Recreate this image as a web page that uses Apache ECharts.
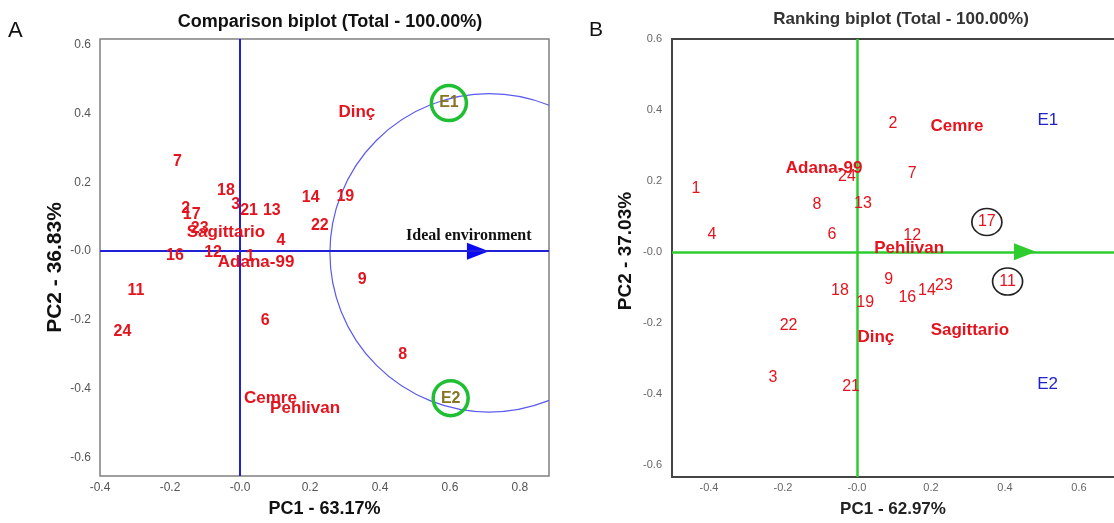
<!DOCTYPE html>
<html>
<head>
<meta charset="utf-8">
<script src="https://cdn.jsdelivr.net/npm/echarts@6/dist/echarts.min.js"></script>
<style>
html,body{margin:0;padding:0;background:#fff;}
#c{width:1114px;height:523px;}
</style>
</head>
<body>
<div id="c"></div>
<script>
// ---------------- DATA ----------------
// Panel A: comparison biplot  [label, PC1, PC2]
const leftGenotypes = [
  ['7', -0.179, 0.261], ['18', -0.040, 0.175], ['3', -0.012, 0.135], ['21', 0.026, 0.117],
  ['13', 0.091, 0.117], ['14', 0.202, 0.155], ['19', 0.301, 0.158], ['22', 0.228, 0.074],
  ['2', -0.155, 0.124], ['17', -0.138, 0.107], ['23', -0.115, 0.064], ['4', 0.117, 0.032],
  ['16', -0.186, -0.014], ['12', -0.077, -0.003], ['1', 0.029, -0.015], ['9', 0.349, -0.083],
  ['11', -0.297, -0.115], ['6', 0.072, -0.203], ['24', -0.336, -0.235], ['8', 0.465, -0.301]
];
const leftCultivars = [
  ['Dinç', 0.334, 0.404], ['Sagittario', -0.040, 0.054], ['Adana-99', 0.046, -0.032],
  ['Cemre', 0.087, -0.427], ['Pehlivan', 0.186, -0.456]
];
const leftEnvironments = [['E1', 0.597, 0.430], ['E2', 0.602, -0.427]];
const leftIdeal = [0.68, 0];              // arrow head (ideal environment) on the AEA
const leftIdealLabel = ['Ideal environment', 0.654, 0.043];
const leftCircle = [0.712, -0.005, 0.455]; // centre PC1, centre PC2, radius

// Panel B: ranking biplot
const rightGenotypes = [
  ['2', 0.097, 0.361], ['24', -0.027, 0.213], ['7', 0.149, 0.221], ['1', -0.435, 0.179],
  ['8', -0.108, 0.132], ['13', 0.016, 0.137], ['17', 0.351, 0.084], ['4', -0.392, 0.048],
  ['6', -0.068, 0.048], ['12', 0.149, 0.045], ['9', 0.086, -0.078], ['11', 0.407, -0.084],
  ['18', -0.046, -0.109], ['19', 0.022, -0.143], ['16', 0.136, -0.129], ['14', 0.189, -0.109],
  ['23', 0.235, -0.095], ['22', -0.185, -0.207], ['3', -0.227, -0.356], ['21', -0.016, -0.381]
];
const rightCultivars = [
  ['Cemre', 0.270, 0.353], ['Adana-99', -0.089, 0.235], ['Pehlivan', 0.141, 0.011],
  ['Sagittario', 0.305, -0.221], ['Dinç', 0.051, -0.241]
];
const rightEnvironments = [['E1', 0.516, 0.370], ['E2', 0.515, -0.373]];
const rightHighlighted = ['17', '11'];
const rightAEA = [0.454, 0];

// Tick labels
const tickValuesX = [-0.4, -0.2, 0, 0.2, 0.4, 0.6, 0.8];
const tickLabelsX = ['-0.4', '-0.2', '-0.0', '0.2', '0.4', '0.6', '0.8'];
const tickValuesY = [-0.6, -0.4, -0.2, 0, 0.2, 0.4, 0.6];
const tickLabelsY = ['-0.6', '-0.4', '-0.2', '-0.0', '0.2', '0.4', '0.6'];

const titles = ['Comparison biplot (Total - 100.00%)', 'Ranking biplot (Total - 100.00%)'];
const xNames = ['PC1 - 63.17%', 'PC1 - 62.97%'];
const yNames = ['PC2 - 36.83%', 'PC2 - 37.03%'];
const panelLetters = ['A', 'B'];

// ---------------- CHART ----------------
const FONT = '"Liberation Sans", Arial, sans-serif';
const RED = '#e3141e';

function tickFmt(values, labels) {
  return function (v) {
    for (let i = 0; i < values.length; i++) if (Math.abs(values[i] - v) < 1e-6) return labels[i];
    return '';
  };
}
function pts(items) {
  return items.map(d => ({ name: d[0], value: [d[1], d[2]] }));
}
function textSeries(items, gi, labelStyle, z) {
  return {
    type: 'scatter', xAxisIndex: gi, yAxisIndex: gi, silent: true, z: z || 5,
    symbol: 'circle', symbolSize: 1, itemStyle: { color: 'rgba(0,0,0,0)', opacity: 1 },
    data: pts(items),
    label: Object.assign({ show: true, position: 'inside', formatter: '{b}', fontFamily: FONT }, labelStyle)
  };
}
const hiddenAxisBits = { axisTick: { show: false }, splitLine: { show: false } };

const chart = echarts.init(document.getElementById('c'), null, { renderer: 'canvas', width: 1114, height: 523 });

const option = {
  animation: false,
  backgroundColor: '#fff',
  title: [
    { text: titles[0], left: 330, top: 13, textAlign: 'center', padding: 0,
      textStyle: { fontFamily: FONT, fontSize: 18, fontWeight: 'bold', color: '#111' } },
    { text: titles[1], left: 901, top: 11, textAlign: 'center', padding: 0,
      textStyle: { fontFamily: FONT, fontSize: 17, fontWeight: 'bold', color: '#333' } },
    { text: panelLetters[0], left: 8, top: 20, padding: 0,
      textStyle: { fontFamily: FONT, fontSize: 22, fontWeight: 'normal', color: '#111' } },
    { text: panelLetters[1], left: 589, top: 20, padding: 0,
      textStyle: { fontFamily: FONT, fontSize: 21, fontWeight: 'normal', color: '#111' } }
  ],
  grid: [
    { left: 100, top: 39, width: 449, height: 443, show: true, borderColor: '#808080', borderWidth: 1.5, backgroundColor: 'transparent' },
    { left: 672, top: 39, width: 442, height: 441, show: false }
  ],
  xAxis: [
    Object.assign({ gridIndex: 0, type: 'value', min: -0.4, max: 0.883,
      name: xNames[0], nameLocation: 'middle', nameGap: 24,
      nameTextStyle: { fontFamily: FONT, fontSize: 18, fontWeight: 'bold', color: '#111' },
      axisLine: { show: false },
      axisLabel: { customValues: tickValuesX, formatter: tickFmt(tickValuesX, tickLabelsX), margin: 6,
        fontFamily: FONT, fontSize: 12, color: '#555' } }, hiddenAxisBits),
    Object.assign({ gridIndex: 1, type: 'value', min: -0.5, max: 0.6946, position: 'bottom',
      name: xNames[1], nameLocation: 'middle', nameGap: 24,
      nameTextStyle: { fontFamily: FONT, fontSize: 17, fontWeight: 'bold', color: '#222' },
      axisLine: { show: true, onZero: false, lineStyle: { color: '#444', width: 2 } },
      axisLabel: { customValues: tickValuesX.slice(0, 6), formatter: tickFmt(tickValuesX, tickLabelsX), margin: 5,
        fontFamily: FONT, fontSize: 11, color: '#666' } }, hiddenAxisBits),
    Object.assign({ gridIndex: 1, type: 'value', min: -0.5, max: 0.6946, position: 'top',
      axisLine: { show: true, onZero: false, lineStyle: { color: '#444', width: 2 } },
      axisLabel: { show: false } }, hiddenAxisBits)
  ],
  yAxis: [
    Object.assign({ gridIndex: 0, type: 'value', min: -0.653, max: 0.616,
      name: yNames[0], nameLocation: 'middle', nameGap: 34,
      nameTextStyle: { fontFamily: FONT, fontSize: 21, fontWeight: 'bold', color: '#111', padding: [0, 20, 0, 0] },
      axisLine: { show: false },
      axisLabel: { customValues: tickValuesY, formatter: tickFmt(tickValuesY, tickLabelsY), margin: 9,
        fontFamily: FONT, fontSize: 12, color: '#555' } }, hiddenAxisBits),
    Object.assign({ gridIndex: 1, type: 'value', min: -0.635, max: 0.6,
      name: yNames[1], nameLocation: 'middle', nameGap: 37,
      nameTextStyle: { fontFamily: FONT, fontSize: 19, fontWeight: 'bold', color: '#111', padding: [0, 0, 0, 14] },
      axisLine: { show: true, onZero: false, lineStyle: { color: '#444', width: 2 } },
      axisLabel: { customValues: tickValuesY, formatter: tickFmt(tickValuesY, tickLabelsY), margin: 10,
        fontFamily: FONT, fontSize: 11, color: '#666' } }, hiddenAxisBits)
  ],
  series: [
    // ----- Panel A -----
    { // axes through origin + ideal environment arrow
      type: 'scatter', xAxisIndex: 0, yAxisIndex: 0, silent: true, z: 3,
      symbol: 'triangle', symbolRotate: -90, symbolSize: [17, 22],
      itemStyle: { color: '#0a0af5', opacity: 1 },
      data: [leftIdeal],
      markLine: { silent: true, symbol: 'none', label: { show: false },
        lineStyle: { color: '#2020d8', width: 2, type: 'solid', opacity: 1 },
        data: [{ xAxis: 0 }, { yAxis: 0 }] }
    },
    { // concentric circle around the ideal environment
      type: 'custom', xAxisIndex: 0, yAxisIndex: 0, silent: true, z: 2,
      data: [leftCircle],
      renderItem: function (params, api) {
        const c = api.coord([api.value(0), api.value(1)]);
        const r = api.size([api.value(2), 0])[0];
        const cs = params.coordSys;
        return { type: 'circle', shape: { cx: c[0], cy: c[1], r: r },
          style: { fill: 'none', stroke: '#5a5aee', lineWidth: 1.2 },
          clipPath: { type: 'rect', shape: { x: cs.x, y: cs.y, width: cs.width, height: cs.height } } };
      }
    },
    { // green rings round the environments
      type: 'scatter', xAxisIndex: 0, yAxisIndex: 0, silent: true, z: 4,
      symbol: 'circle', symbolSize: 35,
      itemStyle: { color: 'rgba(0,0,0,0)', borderColor: '#1fbf34', borderWidth: 3.5, opacity: 1 },
      data: pts(leftEnvironments),
      label: { show: true, position: 'inside', formatter: '{b}', fontFamily: FONT, fontSize: 16, fontWeight: 'bold', color: '#857520' }
    },
    textSeries(leftGenotypes, 0, { fontSize: 16, fontWeight: 'bold', color: RED }),
    textSeries(leftCultivars, 0, { fontSize: 17, fontWeight: 'bold', color: RED }),
    textSeries([leftIdealLabel], 0, { fontSize: 16, fontWeight: 'bold', color: '#111', fontFamily: '"Liberation Serif", "Times New Roman", serif' }),

    // ----- Panel B -----
    {
      type: 'scatter', xAxisIndex: 1, yAxisIndex: 1, silent: true, z: 3,
      symbol: 'triangle', symbolRotate: -90, symbolSize: [17, 22],
      itemStyle: { color: '#2ecc2e', opacity: 1 },
      data: [rightAEA],
      markLine: { silent: true, symbol: 'none', label: { show: false },
        lineStyle: { color: '#2ecc2e', width: 2.5, type: 'solid', opacity: 1 },
        data: [{ xAxis: 0 }, { yAxis: 0 }] }
    },
    { // rings round highlighted genotypes
      type: 'scatter', xAxisIndex: 1, yAxisIndex: 1, silent: true, z: 4,
      symbol: 'circle', symbolSize: [30, 27],
      itemStyle: { color: 'rgba(0,0,0,0)', borderColor: '#222', borderWidth: 1.6, opacity: 1 },
      data: pts(rightGenotypes.filter(d => rightHighlighted.indexOf(d[0]) >= 0))
    },
    textSeries(rightGenotypes, 1, { fontSize: 16, fontWeight: 'normal', color: RED }),
    textSeries(rightCultivars, 1, { fontSize: 17, fontWeight: 'bold', color: RED }),
    textSeries(rightEnvironments, 1, { fontSize: 17, fontWeight: 'normal', color: '#2222cc' })
  ]
};
chart.setOption(option);
</script>
</body>
</html>
